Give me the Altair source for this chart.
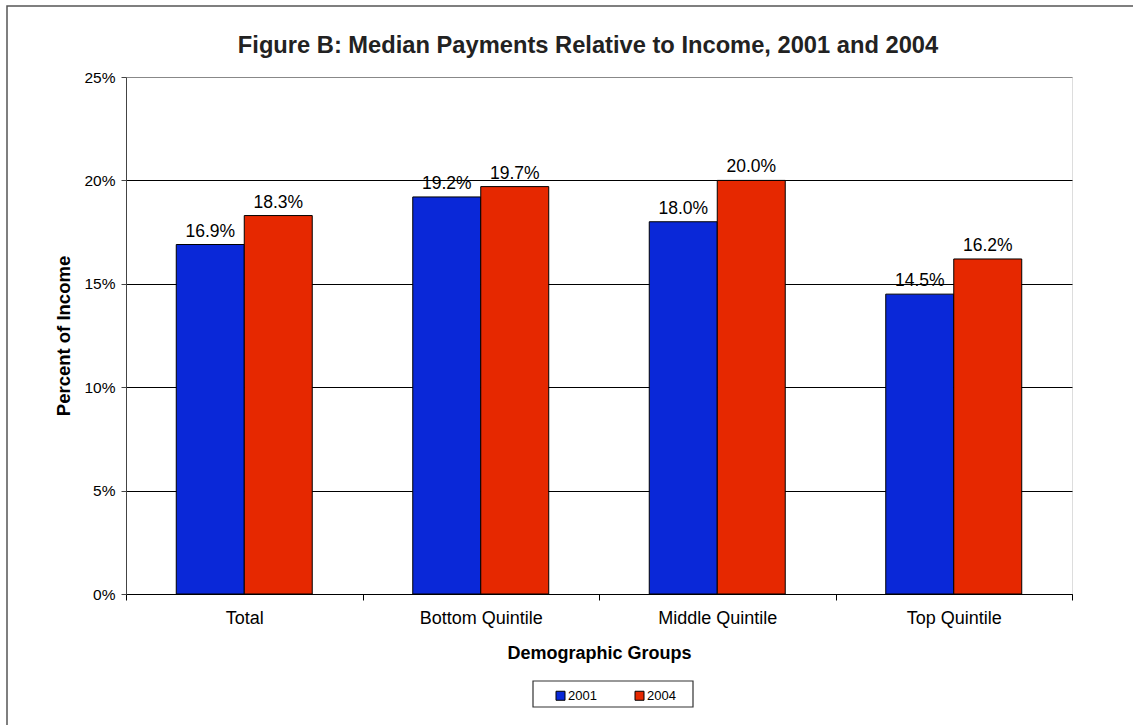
import altair as alt
import pandas as pd

groups = ["Total", "Bottom Quintile", "Middle Quintile", "Top Quintile"]
years = ["2001", "2004"]
vals_2001 = [16.9, 19.2, 18.0, 14.5]
vals_2004 = [18.3, 19.7, 20.0, 16.2]
colors = ["#0A28D8", "#E62800"]
title_text = "Figure B: Median Payments Relative to Income, 2001 and 2004"

rows = []
for g, a, b in zip(groups, vals_2001, vals_2004):
    rows.append({"group": g, "year": "2001", "value": a / 100})
    rows.append({"group": g, "year": "2004", "value": b / 100})
df = pd.DataFrame(rows)

W, H = 946, 517
FONT = "Liberation Sans"

xscale = alt.Scale(paddingInner=0, paddingOuter=0)
offscale = alt.Scale(domain=years, paddingInner=0, paddingOuter=0.739)

xenc = alt.X("group:N", sort=groups, title="Demographic Groups", scale=xscale,
             axis=alt.Axis(labelAngle=0, labelFontSize=18, labelColor="#000", labelFont=FONT,
                           labelPadding=9, titleFontSize=18, titleFont=FONT, titleColor="#000",
                           titlePadding=17, tickBand="extent", tickSize=6, tickColor="#000",
                           domainColor="#000", grid=False))
yenc = alt.Y("value:Q", title="Percent of Income",
             scale=alt.Scale(domain=[0, 0.25], nice=False),
             axis=alt.Axis(format=".0%", values=[0, 0.05, 0.1, 0.15, 0.2, 0.25],
                           labelFontSize=15.5, labelFont=FONT, labelColor="#000", labelPadding=6,
                           tickSize=5, tickColor="#444", domainColor="#444",
                           grid=True,
                           gridColor=alt.condition("datum.value >= 0.25", alt.value("#888"), alt.value("#000")),
                           gridWidth=1,
                           titleFontSize=18.5, titleFont=FONT, titleColor="#000", titlePadding=10))

base = alt.Chart(df)

bars = base.mark_bar(stroke="#000", strokeWidth=1).encode(
    x=xenc, y=yenc,
    xOffset=alt.XOffset("year:N", sort=years, scale=offscale),
    color=alt.Color("year:N", scale=alt.Scale(domain=years, range=colors),
                    legend=alt.Legend(title=None, orient="none", direction="horizontal",
                                      legendX=407, legendY=604, strokeColor="transparent",
                                      padding=8, symbolType="square", symbolSize=81,
                                      symbolStrokeColor="#000", symbolStrokeWidth=1,
                                      labelFontSize=13, labelFont=FONT, labelColor="#000",
                                      columnPadding=23, labelOffset=1,
                                      symbolOffset=13)),
)

labels = base.mark_text(dy=-8, baseline="alphabetic", fontSize=17.5, font=FONT, color="#000").encode(
    x=alt.X("group:N", sort=groups, scale=xscale),
    y="value:Q",
    xOffset=alt.XOffset("year:N", sort=years, scale=offscale),
    text=alt.Text("value:Q", format=".1%"),
)

title = alt.Chart(pd.DataFrame({"t": [title_text]})).mark_text(
    fontSize=23.7, font=FONT, fontWeight="bold", color="#222", baseline="alphabetic", align="center"
).encode(x=alt.value(462), y=alt.value(-24), text="t:N")

frame = alt.Chart(pd.DataFrame({"a": [0]})).mark_rect(
    fill=None, stroke="#555", strokeWidth=1.5
).encode(x=alt.value(-119), x2=alt.value(1040), y=alt.value(-71), y2=alt.value(700))

legend_box = alt.Chart(pd.DataFrame({"a": [0]})).mark_rect(
    fill=None, stroke="#333", strokeWidth=1.2
).encode(x=alt.value(407), x2=alt.value(567), y=alt.value(604), y2=alt.value(630))

chart = alt.layer(frame, legend_box, bars, labels, title).properties(
    width=W, height=H,
    autosize=alt.AutoSizeParams(type="none"),
    padding={"left": 126, "top": 77, "right": 61, "bottom": 131},
).configure_view(stroke="#888", strokeWidth=1.5).configure(background="white")

chart.save("out.html", embed_options={"renderer": "svg", "actions": False})
